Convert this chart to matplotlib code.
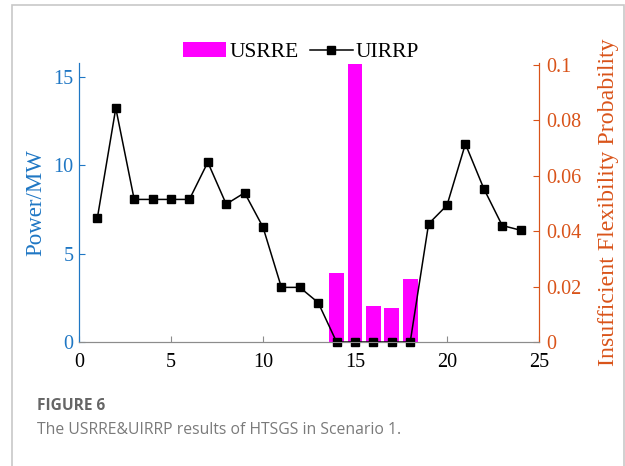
import numpy as np
import matplotlib
matplotlib.use('Agg')
import matplotlib.pyplot as plt
from matplotlib.lines import Line2D
from matplotlib.patches import Rectangle

hours = np.arange(1, 25)
usrre = [0, 0, 0, 0, 0, 0, 0, 0, 0, 0, 0, 0, 0, 3.91, 15.75, 2.04, 1.95, 3.59,
         0, 0, 0, 0, 0, 0]
uirrp = [0.0448, 0.0843, 0.0514, 0.0514, 0.0514, 0.0514, 0.0648, 0.0497, 0.0538,
         0.0414, 0.0197, 0.0197, 0.0142, 0, 0, 0, 0, 0, 0.0426, 0.0493, 0.0714,
         0.0553, 0.042, 0.0403]
xticks = [0, 5, 10, 15, 20, 25]
left_ticks = [0, 5, 10, 15]
right_ticks = [0, 0.02, 0.04, 0.06, 0.08, 0.1]
right_ticklabels = ['0', '0.02', '0.04', '0.06', '0.08', '0.1']

blue = '#1f77c4'
orange = '#d95319'
plt.rcParams['font.family'] = ['Liberation Serif', 'DejaVu Serif']
plt.rcParams['font.size'] = 14.5

fig = plt.figure(figsize=(6.25, 4.66), dpi=100)
ax = fig.add_axes([0.1264, 0.266, 0.736, 0.599])
ax2 = ax.twinx()

bars = ax.bar(hours, usrre, width=0.8, color='#ff00ff', zorder=2)
line, = ax2.plot(hours, uirrp, color='black', lw=1.1, marker='s', ms=5.5, clip_on=False)

ax.set_xlim(0, 25)
ax.set_ylim(0, 15.8)
ax2.set_ylim(0, 0.1006)
ax.set_xticks(xticks)
ax.set_yticks(left_ticks)
ax2.set_yticks(right_ticks)
ax2.set_yticklabels(right_ticklabels)

ax.set_ylabel('Power/MW', color=blue, fontsize=16.5, labelpad=5)
ax2.set_ylabel('Insufficient Flexibility Probability', color=orange, fontsize=17.2, labelpad=12)

for a in (ax, ax2):
    a.spines['top'].set_visible(False)
    a.spines['bottom'].set_color('#8c8c8c')
    a.spines['left'].set_color(blue)
    a.spines['right'].set_color(orange)
ax.tick_params(axis='x', direction='in', length=4, color='#8c8c8c', labelcolor='black', pad=8)
ax.tick_params(axis='y', direction='in', length=4, color=blue, labelcolor=blue, pad=4)
ax2.tick_params(axis='y', direction='in', length=4, color=orange, labelcolor=orange, pad=5)

handles = [bars, Line2D([], [], color='black', lw=1.1, marker='s', ms=5.5)]
fig.legend(handles, ['USRRE', 'UIRRP'], loc='center', bbox_to_anchor=(0.482, 0.888),
           ncol=2, frameon=False, handlelength=2.0, handletextpad=0.15, columnspacing=0.5,
           borderaxespad=0, fontsize=15.5)

# page frame and caption
fig.add_artist(Rectangle((12 / 625, -0.05), 612 / 625, 1.05 - 5 / 466,
                         transform=fig.transFigure, fill=False, edgecolor='#c8c8c8', lw=1.2))
fig.text(37 / 625, 1 - 406 / 466, 'FIGURE 6', family='Open Sans', fontweight='bold',
         fontsize=11.2, color='#666666', va='center')
fig.text(37 / 625, 1 - 430 / 466, 'The USRRE&UIRRP results of HTSGS in Scenario 1.',
         family='Open Sans', fontsize=11.3, color='#7a7a7a', va='center')

fig.savefig('out.png', dpi=100)
